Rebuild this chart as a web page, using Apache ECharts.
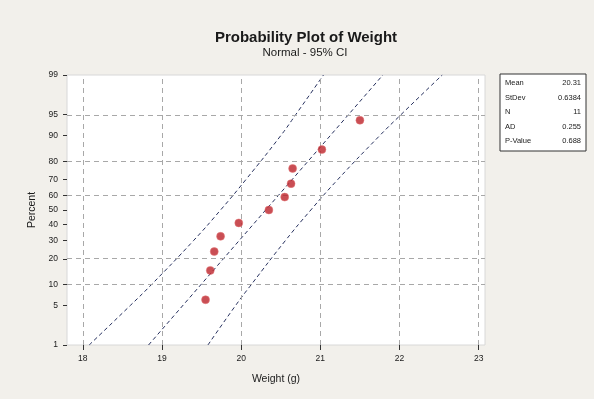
<!DOCTYPE html>
<html>
<head>
<meta charset="utf-8">
<script src="https://cdn.jsdelivr.net/npm/echarts@6/dist/echarts.min.js"></script>
<style>
  html, body { margin: 0; padding: 0; background: #f2f0eb; }
  #chart { width: 594px; height: 399px; }
</style>
</head>
<body>
<div id="chart"></div>
<script>
// observed weights and their plotted percents
const weights = [19.55, 19.61, 19.66, 19.74, 19.97, 20.35, 20.55, 20.63, 20.65, 21.02, 21.50];
const percents = [6.1, 14.9, 23.7, 32.5, 41.2, 50.0, 58.8, 67.5, 76.3, 85.1, 93.9];

// fitted line and 95% CI bands
const fitX = [18.83, 21.79];
const fitP = [1, 99];
const ciP = [1, 5, 10, 30, 50, 70, 90, 95, 99];
const ciLower = [18.08, 18.60, 18.87, 19.40, 19.74, 20.06, 20.50, 20.69, 21.04];
const ciUpper = [19.58, 19.93, 20.13, 20.56, 20.88, 21.22, 21.75, 22.02, 22.54];

// axes
const xTicks = [18, 19, 20, 21, 22, 23];
const yTicks = [1, 5, 10, 20, 30, 40, 50, 60, 70, 80, 90, 95, 99];
const yGrid = [10, 20, 60, 80, 95];

// stats box
const statNames = ['Mean', 'StDev', 'N', 'AD', 'P-Value'];
const statValues = ['20.31', '0.6384', '11', '0.255', '0.688'];

// inverse normal cdf (Acklam)
function probit(p) {
    const a = [-39.69683028665376, 220.9460984245205, -275.9285104469687, 138.3577518672690, -30.66479806614716, 2.506628277459239];
    const b = [-54.47609879822406, 161.5858368580409, -155.6989798598866, 66.80131188771972, -13.28068155288572];
    const c = [-0.007784894002430293, -0.3223964580411365, -2.400758277161838, -2.549732539343734, 4.374664141464968, 2.938163982698783];
    const d = [0.007784695709041462, 0.3224671290700398, 2.445134137142996, 3.754408661907416];
    const pl = 0.02425;
    let q, r;
    if (p < pl) {
        q = Math.sqrt(-2 * Math.log(p));
        return (((((c[0]*q+c[1])*q+c[2])*q+c[3])*q+c[4])*q+c[5]) / ((((d[0]*q+d[1])*q+d[2])*q+d[3])*q+1);
    }
    if (p > 1 - pl) {
        q = Math.sqrt(-2 * Math.log(1 - p));
        return -(((((c[0]*q+c[1])*q+c[2])*q+c[3])*q+c[4])*q+c[5]) / ((((d[0]*q+d[1])*q+d[2])*q+d[3])*q+1);
    }
    q = p - 0.5;
    r = q * q;
    return (((((a[0]*r+a[1])*r+a[2])*r+a[3])*r+a[4])*r+a[5])*q / (((((b[0]*r+b[1])*r+b[2])*r+b[3])*r+b[4])*r+1);
}
const z = (pct) => probit(pct / 100);

const yTickZ = yTicks.map(z);
const labelFor = (v) => {
    let best = 0;
    yTickZ.forEach((t, i) => { if (Math.abs(t - v) < Math.abs(yTickZ[best] - v)) best = i; });
    return String(yTicks[best]);
};

const lineDash = {color: '#26305e', width: 1, type: [4, 3]};

const myChart = echarts.init(document.getElementById('chart'));
myChart.setOption({
    animation: false,
    backgroundColor: '#f2f0eb',
    textStyle: {fontFamily: 'Liberation Sans'},
    title: [
        {
            text: 'Probability Plot of Weight',
            left: 301,
            top: 25,
            textAlign: 'center',
            textStyle: {fontSize: 15, fontWeight: 'bold', color: '#1a1a1a'}
        },
        {
            text: 'Normal - 95% CI',
            left: 300,
            top: 42,
            textAlign: 'center',
            textStyle: {fontSize: 11.5, fontWeight: 'normal', color: '#1a1a1a'}
        }
    ],
    grid: {
        left: 67,
        right: 109,
        top: 75,
        bottom: 54,
        show: true,
        backgroundColor: '#ffffff',
        borderColor: '#d8d8d8',
        borderWidth: 1
    },
    xAxis: {
        type: 'value',
        min: 17.8,
        max: 23.08,
        name: 'Weight (g)',
        nameLocation: 'middle',
        nameGap: 29,
        nameTextStyle: {fontSize: 10.5, color: '#1a1a1a'},
        axisLine: {show: false, onZero: false},
        axisTick: {show: true, length: 5, customValues: xTicks, lineStyle: {color: '#333'}},
        axisLabel: {customValues: xTicks, fontSize: 8.5, color: '#1a1a1a', margin: 9},
        splitLine: {show: false}
    },
    yAxis: {
        type: 'value',
        min: z(1),
        max: z(99),
        name: 'Percent',
        nameLocation: 'middle',
        nameGap: 28,
        nameTextStyle: {fontSize: 10.5, color: '#1a1a1a'},
        axisLine: {show: false, onZero: false},
        axisTick: {show: true, length: 4, customValues: yTickZ, lineStyle: {color: '#333'}},
        axisLabel: {customValues: yTickZ, fontSize: 8.5, color: '#1a1a1a', margin: 9, formatter: labelFor},
        splitLine: {show: false}
    },
    series: [
        {
            name: 'grid',
            type: 'line',
            data: [],
            silent: true,
            markLine: {
                symbol: 'none',
                silent: true,
                label: {show: false},
                lineStyle: {color: '#a8a8a8', width: 1, type: [5, 4]},
                data: xTicks.map(v => ({xAxis: v})).concat(yGrid.map(p => ({yAxis: z(p)})))
            }
        },
        {
            name: 'Lower CI',
            type: 'line',
            smooth: true,
            symbol: 'none',
            lineStyle: lineDash,
            data: ciLower.map((x, i) => [x, z(ciP[i])])
        },
        {
            name: 'Upper CI',
            type: 'line',
            smooth: true,
            symbol: 'none',
            lineStyle: lineDash,
            data: ciUpper.map((x, i) => [x, z(ciP[i])])
        },
        {
            name: 'Fit',
            type: 'line',
            symbol: 'none',
            lineStyle: lineDash,
            data: fitX.map((x, i) => [x, z(fitP[i])])
        },
        {
            name: 'Weight',
            type: 'scatter',
            symbol: 'circle',
            symbolSize: 8,
            itemStyle: {color: '#bb2229', borderColor: 'rgba(230,120,120,0.6)', borderWidth: 1},
            data: weights.map((w, i) => [w, z(percents[i])]),
            z: 5
        }
    ],
    graphic: [
        {
            type: 'rect',
            shape: {x: 500, y: 74, width: 86, height: 77},
            style: {fill: '#ffffff', stroke: '#333', lineWidth: 1}
        },
        ...statNames.map((s, i) => ({
            type: 'text',
            x: 505,
            y: 83 + i * 14.5,
            style: {text: s, fontSize: 7.5, fill: '#1a1a1a', verticalAlign: 'middle', fontFamily: 'Liberation Sans'}
        })),
        ...statValues.map((s, i) => ({
            type: 'text',
            x: 581,
            y: 83 + i * 14.5,
            style: {text: s, fontSize: 7.5, fill: '#1a1a1a', align: 'right', verticalAlign: 'middle', fontFamily: 'Liberation Sans'}
        }))
    ]
});
</script>
</body>
</html>
